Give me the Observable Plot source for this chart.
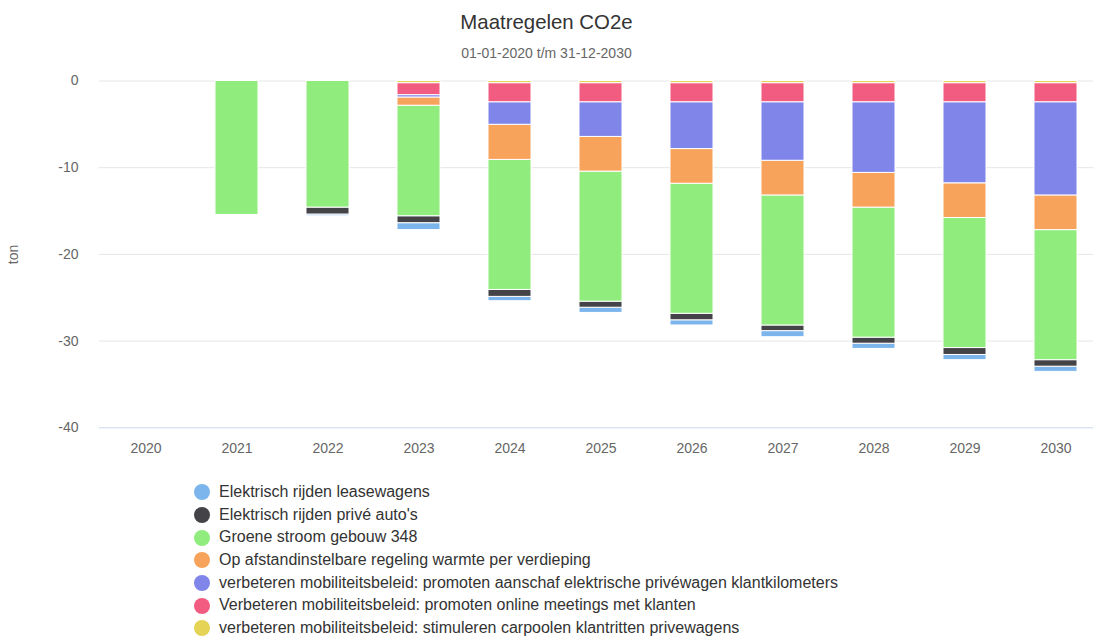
<!DOCTYPE html>
<html><head><meta charset="utf-8">
<script src="https://cdn.jsdelivr.net/npm/d3@7"></script>
<script src="https://cdn.jsdelivr.net/npm/@observablehq/plot@0.6"></script>
<style>
body{margin:0;background:#fff;font-family:"Liberation Sans",Arial,sans-serif;}
#wrap{position:relative;width:1093px;height:637px;overflow:hidden;}
#title{position:absolute;top:9px;left:0;width:1093px;text-align:center;font-size:20.4px;color:#333;line-height:26px;}
#subtitle{position:absolute;top:44px;left:0;width:1093px;text-align:center;font-size:14px;color:#666;line-height:18px;}
#chart{position:absolute;top:60px;left:0;}
#legend{position:absolute;left:194px;top:481px;font-size:16px;color:#333;}
.item{height:22.67px;line-height:22.67px;display:flex;align-items:center;white-space:nowrap;}
.sw{width:16px;height:16px;border-radius:50%;margin-right:9px;flex:none;}
</style>
</head><body>
<div id="wrap">
  <div id="title">Maatregelen CO2e</div>
  <div id="subtitle">01-01-2020 t/m 31-12-2030</div>
  <div id="chart"></div>
  <div id="legend"></div>
</div>
<script>
const years = ["2020","2021","2022","2023","2024","2025","2026","2027","2028","2029","2030"];
const seriesNames = [
  "Elektrisch rijden leasewagens",
  "Elektrisch rijden privé auto's",
  "Groene stroom gebouw 348",
  "Op afstandinstelbare regeling warmte per verdieping",
  "verbeteren mobiliteitsbeleid: promoten aanschaf elektrische privéwagen klantkilometers",
  "Verbeteren mobiliteitsbeleid: promoten online meetings met klanten",
  "verbeteren mobiliteitsbeleid: stimuleren carpoolen klantritten privewagens"
];
const colors = ["#7cb5ec","#434348","#90ed7d","#f7a35c","#8085e9","#f15c80","#e4d354"];

const leasewagens = [0, 0, -0.2, -0.8, -0.5, -0.6, -0.6, -0.7, -0.6, -0.6, -0.6];
const priveAutos  = [0, 0, -0.8, -0.8, -0.8, -0.7, -0.75, -0.65, -0.7, -0.8, -0.75];
const groeneStroom = [0, -15.45, -14.6, -12.75, -15.0, -15.0, -15.0, -15.0, -15.0, -15.0, -15.0];
const regelingWarmte = [0, 0, 0, -0.95, -4.05, -4.0, -4.0, -4.0, -4.0, -4.0, -4.0];
const aanschafElektrisch = [0, 0, 0, -0.27, -2.6, -4.0, -5.4, -6.75, -8.15, -9.35, -10.75];
const onlineMeetings = [0, 0, 0, -1.38, -2.2, -2.2, -2.2, -2.2, -2.2, -2.2, -2.2];
const carpoolen = [0, 0, 0, -0.25, -0.25, -0.25, -0.25, -0.25, -0.25, -0.25, -0.25];

const yTicks = [0, -10, -20, -30, -40];
const gridTicks = [0, -10, -20, -30];

const seriesValues = [leasewagens, priveAutos, groeneStroom, regelingWarmte, aanschafElektrisch, onlineMeetings, carpoolen];
const table = [];
seriesNames.forEach((s, i) => {
  years.forEach((yr, j) => {
    const v = seriesValues[i][j];
    if (v !== 0) table.push({year: yr, series: s, value: v});
  });
});
const stackOrder = seriesNames.slice().reverse();

const plot = Plot.plot({
  width: 1093, height: 400,
  marginLeft: 99, marginRight: 0, marginTop: 20.5, marginBottom: 32.7,
  style: {fontFamily: '"Liberation Sans", Arial, sans-serif', fontSize: "14px", color: "#666", background: "transparent"},
  x: {domain: years, range: [97.6, 1102.4], paddingInner: 0.53, paddingOuter: 0.265, label: null},
  y: {domain: [-40, 0], label: "ton"},
  color: {domain: seriesNames, range: colors},
  marks: [
    Plot.gridY(gridTicks, {stroke: "#e6e6e6", strokeOpacity: 1}),
    Plot.ruleY([-40], {stroke: "#ccd6eb"}),
    Plot.barY(table, Plot.stackY({order: stackOrder}, {x: "year", y: "value", fill: "series", stroke: "white", strokeWidth: 1})),
    Plot.axisY(yTicks, {tickSize: 0, tickPadding: 21, tickFormat: d => String(d), label: "ton", labelAnchor: "center", labelOffset: 91, labelArrow: "none"}),
    Plot.axisX({tickSize: 0, tickPadding: 15, label: null})
  ]
});
document.getElementById("chart").appendChild(plot);

const legend = document.getElementById("legend");
seriesNames.forEach((s, i) => {
  const it = document.createElement("div");
  it.className = "item";
  const sw = document.createElement("span");
  sw.className = "sw";
  sw.style.background = colors[i];
  const tx = document.createElement("span");
  tx.textContent = s;
  it.appendChild(sw); it.appendChild(tx);
  legend.appendChild(it);
});
</script>
</body></html>
